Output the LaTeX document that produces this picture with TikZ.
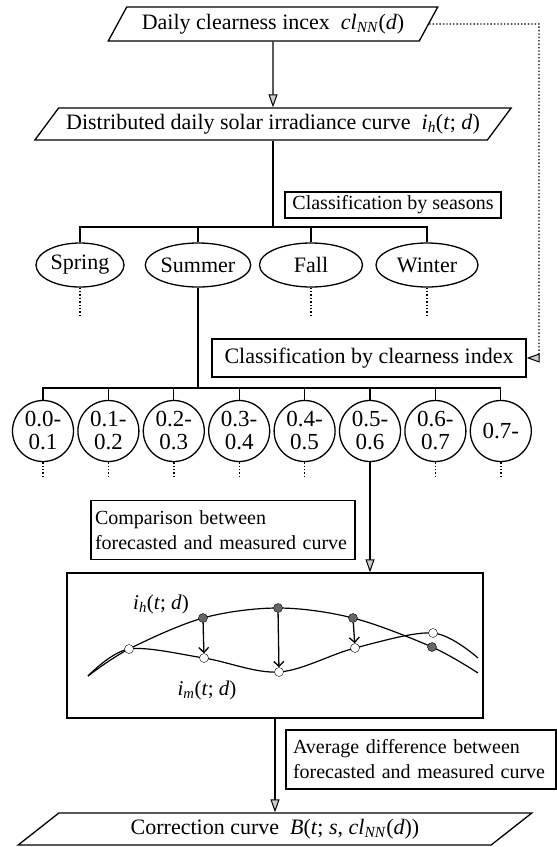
\documentclass[tikz,border=0pt]{standalone}
\usepackage{fontspec}
\setmainfont{Liberation Serif}
\usetikzlibrary{shapes.geometric,arrows.meta}

\newcommand{\clnn}{\textit{cl}\textsubscript{\textit{NN}}(\textit{d})}
\newcommand{\ihtd}{\textit{i}\textsubscript{\textit{h}}(\textit{t}; \textit{d})}
\newcommand{\imtd}{\textit{i}\textsubscript{\textit{m}}(\textit{t}; \textit{d})}

\begin{document}
\begin{tikzpicture}[x=1pt, y=-1pt,
    every node/.style={font=\fontsize{20}{25}\selectfont},
    trunk/.style={line width=1.3pt},
    dotlink/.style={line width=1.4pt, dotted},
    flow/.style={line width=1.3pt, -{Triangle[length=13pt, width=9pt, fill=gray!40, line width=1pt]}},
    iobox/.style={trapezium, draw, line width=1.3pt, trapezium stretches=true, inner sep=2pt,
      font=\fontsize{22}{25}\selectfont},
    textbox/.style={draw, line width=1.3pt, inner sep=0pt},
    season/.style={ellipse, draw, line width=1.3pt, minimum height=44pt, inner sep=0pt,
      font=\fontsize{22}{25}\selectfont},
    clsnode/.style={circle, draw, line width=1.3pt, minimum size=61pt, inner sep=0pt,
      align=center, font=\fontsize{23}{23}\selectfont},
    hdot/.style={circle, draw, fill=black!60, minimum size=9pt, inner sep=0pt},
    mdot/.style={circle, draw, fill=white, minimum size=9pt, inner sep=0pt},
    diff/.style={line width=1.3pt, -{Straight Barb[length=5pt, width=10pt]}}
  ]
  \useasboundingbox (0,0) rectangle (557,847);

  %Inputs
  \node[iobox, trapezium left angle=55, trapezium right angle=125,
    minimum width=330pt, minimum height=34pt] (daily) at (273,24)
    {Daily clearness incex\ \ \clnn};
  \node[iobox, trapezium left angle=46, trapezium right angle=134,
    minimum width=477pt, minimum height=32pt] (curve) at (273,124)
    {Distributed daily solar irradiance curve\ \ \ihtd};
  \draw[flow] (daily) -- (curve);

  %Seasons
  \node[textbox, minimum width=216pt, minimum height=26pt] (byseason) at (393,205)
    {Classification by seasons};
  \coordinate (sbar) at (273,227);
  \node[season, minimum width=88pt]  (spring) at (80,265)  {Spring};
  \node[season, minimum width=101pt] (summer) at (198,265) {Summer};
  \node[season, minimum width=103pt] (fall)   at (311,265) {Fall};
  \node[season, minimum width=102pt] (winter) at (427,265) {Winter};

  \draw[trunk] (curve) -- (sbar);
  \draw[trunk] (spring.north) |- (sbar) -| (winter.north);
  \draw[trunk] (summer) -- (summer |- sbar);
  \draw[trunk] (fall) -- (fall |- sbar);
  \foreach \s in {spring,fall,winter}
    \draw[dotlink] (\s.south) -- ++(0,28);

  %Clearness index
  \node[textbox, minimum width=314pt, minimum height=38pt,
    font=\fontsize{22}{25}\selectfont] (byindex) at (369,358)
    {Classification by clearness index};
  \coordinate (turn) at (539,24);
  \draw[dotlink, -{Triangle[length=13pt, width=9pt, fill=gray!40, line width=1pt]}]
    (daily.east) -- (turn) |- (byindex.east);

  \coordinate (cbar) at (198,388);
  \foreach \lab [count=\i from 0] in {{0.0-\\0.1},{0.1-\\0.2},{0.2-\\0.3},{0.3-\\0.4},
      {0.4-\\0.5},{0.5-\\0.6},{0.6-\\0.7},{0.7-}}
    \node[clsnode] (c\i) at (43+65.4*\i,431) {\lab};
  \draw[trunk] (summer) -- (cbar);
  \draw[trunk] (c0.north) |- (cbar) -| (c7.north);
  \foreach \i in {1,...,6}
    \draw[trunk] (c\i) -- (c\i |- cbar);
  \foreach \i in {0,1,2,3,4,6,7}
    \draw[dotlink] (c\i.south) -- ++(0,14);

  %Comparison
  \node[textbox, minimum width=264pt, minimum height=59pt, inner xsep=4pt,
    text width=256pt, align=left] (compare) at (223,530)
    {Comparison between\\forecasted and measured curve};
  \node[textbox, minimum width=416pt, minimum height=145pt] (graph) at (275,645.5) {};
  \draw[flow] (c5) -- (c5 |- graph.north);

  %Curves
  \coordinate (g0) at (88,676);
  \coordinate (wa) at (129,649);
  \coordinate (h1) at (203,618);
  \coordinate (h2) at (278,608);
  \coordinate (h3) at (353,618);
  \coordinate (h4) at (432,647);
  \coordinate (hend) at (478,673);
  \coordinate (m1) at (204,658);
  \coordinate (m2) at (279,672);
  \coordinate (m3) at (355,648);
  \coordinate (m4) at (433,633);
  \coordinate (mend) at (478,658);
  \draw[line width=1.2pt] plot[smooth, tension=0.55]
    coordinates {(g0) (wa) (h1) (h2) (h3) (h4) (hend)};
  \draw[line width=1.2pt] plot[smooth, tension=0.55]
    coordinates {(g0) (wa) (m1) (m2) (m3) (m4) (mend)};
  \foreach \i in {1,...,4}
    \node[hdot] (H\i) at (h\i) {};
  \node[mdot] (MA) at (wa) {};
  \foreach \i in {1,...,4}
    \node[mdot] (M\i) at (m\i) {};
  \foreach \i in {1,2,3}
    \draw[diff] (H\i) -- (M\i);
  \node[font=\fontsize{21}{25}\selectfont] (ihlabel) at (161,604) {\ihtd};
  \node[font=\fontsize{21}{25}\selectfont] (imlabel) at (207,690) {\imtd};

  %Correction
  \node[textbox, minimum width=270pt, minimum height=59pt, inner xsep=7pt,
    text width=256pt, align=left] (average) at (421,759.5)
    {Average difference between\\forecasted and measured curve};
  \node[iobox, trapezium left angle=41, trapezium right angle=139,
    minimum width=515pt, minimum height=32pt] (correction) at (275,829)
    {Correction curve\ \ \textit{B}(\textit{t}; \textit{s}, \clnn)};
  \draw[flow] (graph) -- (graph |- correction.north);

\end{tikzpicture}
\end{document}
